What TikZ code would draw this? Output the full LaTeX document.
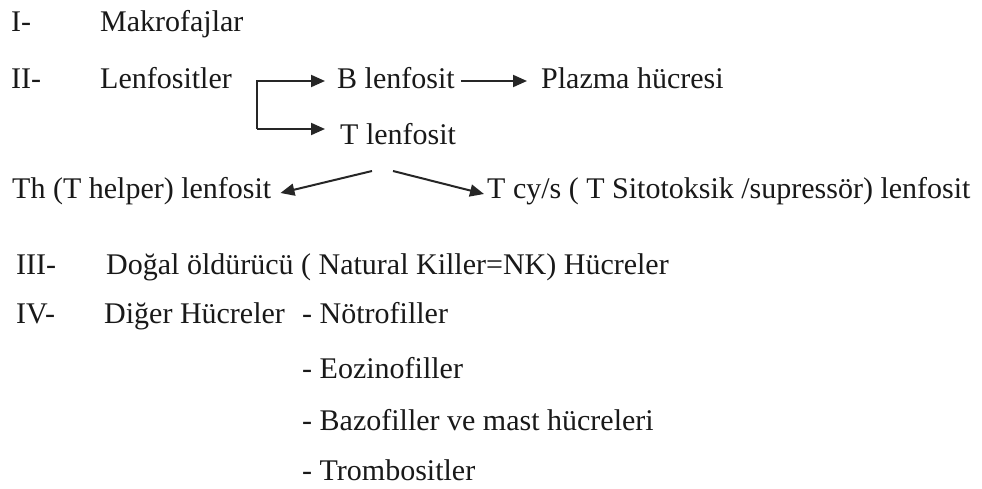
\documentclass[tikz,border=0pt]{standalone}
\usepackage{fontspec}
\setmainfont{Liberation Serif}
\usetikzlibrary{arrows.meta,calc}
\begin{document}
\begin{tikzpicture}[x=1bp,y=-1bp,
  txt/.style={anchor=base west, inner sep=0pt, text=black!90, font=\fontsize{30bp}{36bp}\selectfont},
  arr/.style={-{Triangle[length=14bp,width=12bp]}, line width=2bp, draw=black!85}]
\useasboundingbox[fill=white] (0,0) rectangle (982,489);
\node[txt] (n1) at (11,32) {I-};
\node[txt] (mak) at (100,32) {Makrofajlar};
\node[txt] (n2) at (11,89) {II-};
\node[txt] (lenf) at (100,89) {Lenfositler};
\node[txt] (B) at (337,89) {B lenfosit};
\node[txt] (plz) at (541,89) {Plazma hücresi};
\node[txt] (T) at (340,145) {T lenfosit};
\coordinate (brtop) at (257,81);
\coordinate (brbot) at (257,129);
\draw[arr, shorten >=12bp] (brbot) -- (brtop) -- (brtop -| B.west);
\draw[arr, shorten >=15bp] (brbot) -- (brbot -| T.west);
\draw[arr, shorten <=6bp, shorten >=14bp] (B.east |- brtop) -- (plz.west |- brtop);
\node[txt] (th) at (12,199) {Th (T helper) lenfosit};
\node[txt] (tcy) at (487,199) {T cy/s ( T Sitotoksik /supressör) lenfosit};
\coordinate (s1) at (372,171);
\coordinate (s2) at (393,171);
\draw[arr] (s1) -- ($(th.base east)+(9,-6)$);
\draw[arr] (s2) -- ($(tcy.base west)+(-3,-5)$);
\node[txt] (n3) at (16,275) {III-};
\node[txt] (nk) at (106,275) {Doğal öldürücü ( Natural Killer=NK) Hücreler};
\node[txt] (n4) at (16,324) {IV-};
\node[txt] (dig) at (104,324) {Diğer Hücreler};
\node[txt] (l1) at (302,324) {- Nötrofiller};
\node[txt] (l2) at (302,379) {- Eozinofiller};
\node[txt] (l3) at (302,430) {- Bazofiller ve mast hücreleri};
\node[txt] (l4) at (302,480) {- Trombositler};
\end{tikzpicture}
\end{document}
